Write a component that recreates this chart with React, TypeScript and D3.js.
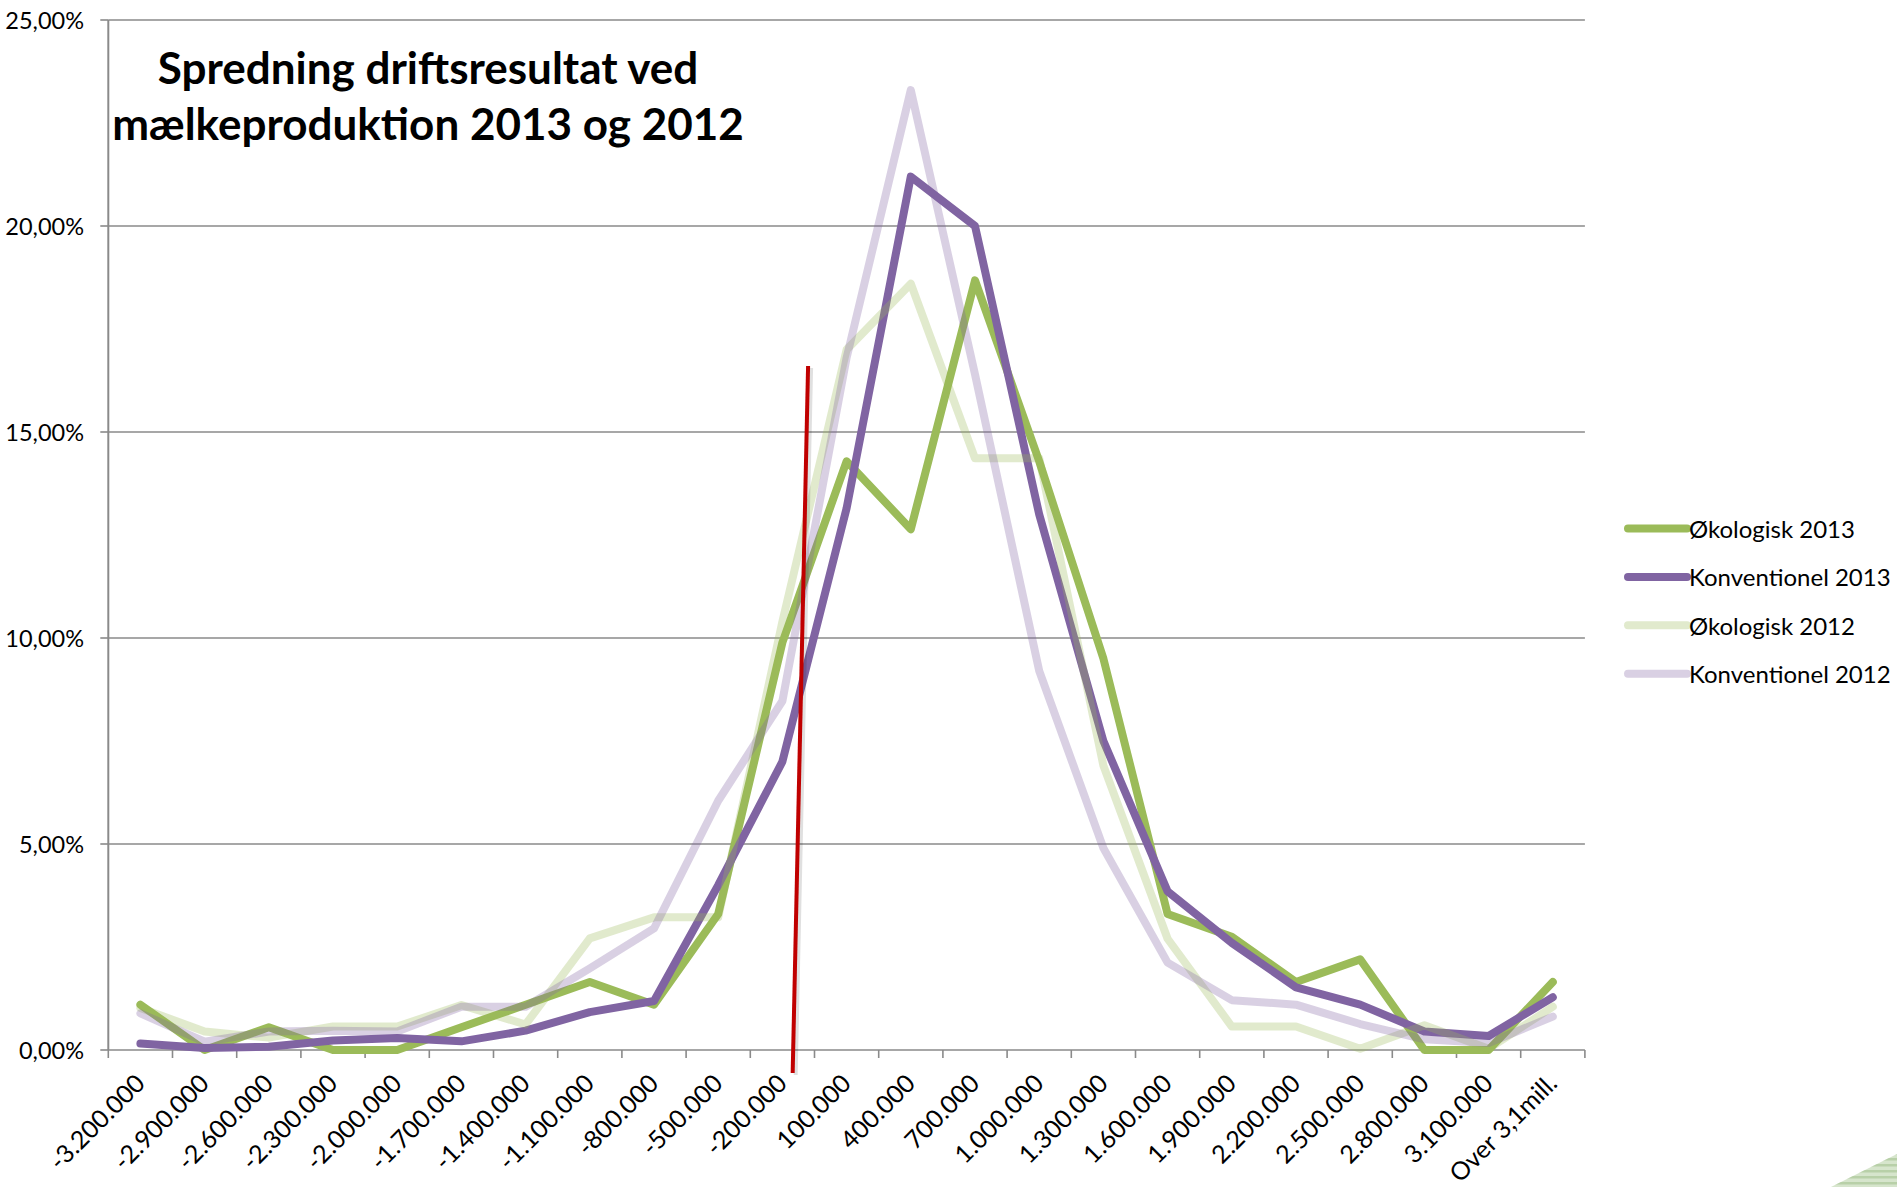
import React from "react";
import * as d3 from "d3";

const categories = [
  "-3.200.000", "-2.900.000", "-2.600.000", "-2.300.000", "-2.000.000", "-1.700.000",
  "-1.400.000", "-1.100.000", "-800.000", "-500.000", "-200.000", "100.000", "400.000",
  "700.000", "1.000.000", "1.300.000", "1.600.000", "1.900.000", "2.200.000", "2.500.000",
  "2.800.000", "3.100.000", "Over 3,1mill.",
];

const oko2013 = [1.10, 0, 0.55, 0, 0, 0.55, 1.10, 1.65, 1.10, 3.30, 9.89, 14.29, 12.64, 18.68, 14.29, 9.5, 3.30, 2.75, 1.65, 2.20, 0, 0, 1.65];
const konv2013 = [0.16, 0.05, 0.08, 0.23, 0.29, 0.21, 0.47, 0.92, 1.19, 4.0, 7.0, 13.15, 21.2, 20.0, 13.0, 7.5, 3.85, 2.6, 1.52, 1.1, 0.45, 0.34, 1.28];
const oko2012 = [1.02, 0.45, 0.3, 0.57, 0.57, 1.09, 0.62, 2.71, 3.22, 3.22, 10.4, 17.0, 18.6, 14.36, 14.36, 6.9, 2.7, 0.57, 0.57, 0.03, 0.6, 0.03, 1.05];
const konv2012 = [0.89, 0.2, 0.45, 0.47, 0.45, 1.05, 1.05, 1.98, 2.95, 6.05, 8.47, 16.8, 23.3, 16.4, 9.2, 4.9, 2.12, 1.21, 1.1, 0.63, 0.26, 0.17, 0.81];

const seriesNames = ["Økologisk 2013", "Konventionel 2013", "Økologisk 2012", "Konventionel 2012"];
const yTicks = [0, 5, 10, 15, 20, 25];
const titleLines = ["Spredning driftsresultat ved", "mælkeproduktion 2013 og 2012"];

// red annotation line: [category-position, percent]
const redLineTop = [10.9, 16.6];
const redLineBottom = [10.66, -0.56];

const W = 1897;
const H = 1187;
const left = 108.3;
const right = 1584.9;
const top = 20;
const bottom = 1050;
const FONT = "Lato, 'Open Sans', sans-serif";

export default function App() {
  const x = d3.scaleBand<string>().domain(categories).range([left, right]).padding(0);
  const xPos = d3.scaleLinear().domain([0, categories.length]).range([left, right]);
  const y = d3.scaleLinear().domain([0, 25]).range([bottom, top]);
  const bw = x.bandwidth();
  const cx = (c: string) => (x(c) as number) + bw / 2;

  const series = [
    { name: seriesNames[0], values: oko2013, color: "#9BBB59", opacity: 1 },
    { name: seriesNames[1], values: konv2013, color: "#8064A2", opacity: 1 },
    { name: seriesNames[2], values: oko2012, color: "#9BBB59", opacity: 0.3 },
    { name: seriesNames[3], values: konv2012, color: "#8064A2", opacity: 0.3 },
  ];

  const line = d3
    .line<number>()
    .x((_, i) => cx(categories[i]))
    .y((d) => y(d));

  const boundaries = d3.range(categories.length + 1).map((i) => xPos(i));

  const legendX1 = 1628;
  const legendX2 = 1687;
  const legendY0 = 528.5;
  const legendStep = 48.4;

  return (
    <svg
      width={W}
      height={H}
      style={{ position: "absolute", left: 0, top: 0, display: "block", background: "#fff" }}
    >
      <rect x={0} y={0} width={W} height={H} fill="#fff" />
      {/* gridlines */}
      {yTicks.map((t) => (
        <g key={"g" + t}>
          <line x1={left} x2={right} y1={y(t)} y2={y(t)} stroke="#8a8a8a" strokeWidth={1.6} />
          <line x1={left - 8} x2={left} y1={y(t)} y2={y(t)} stroke="#8a8a8a" strokeWidth={1.6} />
          <text
            x={84}
            y={y(t)}
            textAnchor="end"
            dominantBaseline="central"
            fontFamily={FONT}
            fontSize={23.5}
            fill="#000"
          >
            {t.toFixed(2).replace(".", ",") + "%"}
          </text>
        </g>
      ))}
      {/* y axis line */}
      <line x1={left} x2={left} y1={top} y2={bottom} stroke="#8a8a8a" strokeWidth={2} />
      {/* x ticks */}
      {boundaries.map((bx, i) => (
        <line key={"t" + i} x1={bx} x2={bx} y1={bottom} y2={bottom + 8} stroke="#8a8a8a" strokeWidth={1.6} />
      ))}
      {/* x labels */}
      {categories.map((c) => (
        <text
          key={"l" + c}
          transform={`translate(${cx(c) + 6},${bottom + 35}) rotate(-45)`}
          textAnchor="end"
          fontFamily={FONT}
          fontSize={25}
          fill="#000"
        >
          {c}
        </text>
      ))}
      {/* series */}
      {series.map((s) => (
        <path
          key={s.name}
          d={line(s.values) as string}
          fill="none"
          stroke={s.color}
          strokeOpacity={s.opacity}
          strokeWidth={8}
          strokeLinejoin="round"
          strokeLinecap="round"
        />
      ))}
      {/* red annotation line */}
      <line
        x1={xPos(redLineTop[0]) + 3}
        y1={y(redLineTop[1]) + 2}
        x2={xPos(redLineBottom[0]) + 3}
        y2={y(redLineBottom[1]) + 2}
        stroke="#000"
        strokeOpacity={0.12}
        strokeWidth={4}
      />
      <line
        x1={xPos(redLineTop[0])}
        y1={y(redLineTop[1])}
        x2={xPos(redLineBottom[0])}
        y2={y(redLineBottom[1])}
        stroke="#C00000"
        strokeWidth={4}
      />
      {/* title */}
      {titleLines.map((t, i) => (
        <text
          key={"ti" + i}
          x={428}
          y={84 + i * 56}
          textAnchor="middle"
          fontFamily={FONT}
          fontWeight={700}
          fontSize={44}
          fill="#000"
        >
          {t}
        </text>
      ))}
      {/* legend */}
      {series.map((s, i) => (
        <g key={"lg" + i}>
          <line
            x1={legendX1}
            x2={legendX2}
            y1={legendY0 + i * legendStep}
            y2={legendY0 + i * legendStep}
            stroke={s.color}
            strokeOpacity={s.opacity}
            strokeWidth={8}
            strokeLinecap="round"
          />
          <text
            x={legendX2 + 2}
            y={legendY0 + i * legendStep}
            dominantBaseline="central"
            fontFamily={FONT}
            fontSize={24}
            fill="#000"
          >
            {s.name}
          </text>
        </g>
      ))}
      {/* decorative corner */}
      <defs>
        <clipPath id="cornerClip">
          <polygon points={`1831,${H} ${W},1154 ${W},${H}`} />
        </clipPath>
      </defs>
      <g clipPath="url(#cornerClip)">
        <rect x={1825} y={1150} width={80} height={40} fill="#d6e5cc" />
        {d3.range(1152, H, 6).map((yy) => (
          <rect key={"s" + yy} x={1825} y={yy} width={80} height={2.5} fill="#b8d0a8" />
        ))}
      </g>
    </svg>
  );
}
